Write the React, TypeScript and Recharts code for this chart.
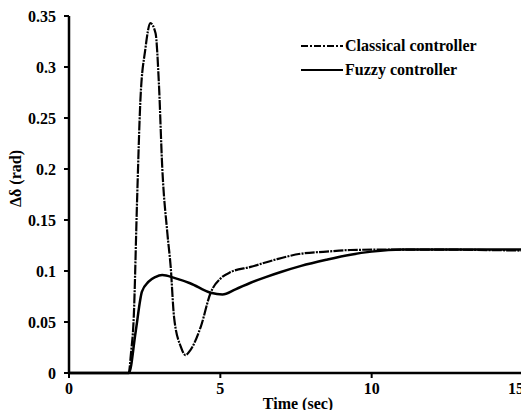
import React from "react";
import { LineChart, Line, XAxis, YAxis, Legend } from "recharts";

// time (sec) / Δδ (rad)
const classicalT = [0, 1.97, 2.05, 2.14, 2.25, 2.36, 2.52, 2.69, 2.86, 2.97, 3.08, 3.25, 3.36, 3.47, 3.69, 3.85, 4.0, 4.35, 4.68, 5.02, 5.35, 6.0, 6.8, 7.67, 8.5, 9.3, 10.5, 12, 15];
const classicalV = [0, 0, 0.02, 0.055, 0.17, 0.268, 0.317, 0.343, 0.333, 0.284, 0.202, 0.137, 0.104, 0.055, 0.026, 0.0176, 0.022, 0.045, 0.0787, 0.093, 0.099, 0.104, 0.111, 0.117, 0.119, 0.1206, 0.121, 0.121, 0.12];

const fuzzyT = [0, 1.98, 2.2, 2.41, 2.63, 2.85, 3.08, 3.5, 4.0, 4.68, 5.07, 5.5, 6.0, 6.5, 7.0, 7.67, 8.5, 9.3, 10, 11, 13, 15];
const fuzzyV = [0, 0, 0.04, 0.0797, 0.0895, 0.094, 0.096, 0.093, 0.088, 0.0787, 0.077, 0.082, 0.0885, 0.094, 0.099, 0.105, 0.111, 0.116, 0.119, 0.121, 0.121, 0.121];

const xTicks = [0, 5, 10, 15];
const yTicks = [0, 0.05, 0.1, 0.15, 0.2, 0.25, 0.3, 0.35];

const classical = classicalT.map((t, i) => ({ t, v: classicalV[i] }));
const fuzzy = fuzzyT.map((t, i) => ({ t, v: fuzzyV[i] }));

const FONT = "'Times New Roman', Times, 'Liberation Serif', serif";
const DASH = "10 1.2 2 1.2";
const tickStyle = { fontSize: 16, fontFamily: FONT, fontWeight: 700, fill: "#000" };
const labelStyle = { fontFamily: FONT, fontWeight: 700, fontSize: 16, fill: "#000" };

const renderLegend = ({ payload }: any) => (
  <div style={{ fontFamily: FONT, fontWeight: 700, fontSize: 16, color: "#000" }}>
    {(payload || []).map((p: any) => (
      <div key={p.value} style={{ display: "flex", alignItems: "center", height: 24 }}>
        <svg width={42} height={10} style={{ marginRight: 2 }}>
          <line x1={0} y1={5} x2={42} y2={5} stroke="#000" strokeWidth={2}
            strokeDasharray={p.value === "Classical controller" ? "7 2 2 2" : undefined} />
        </svg>
        <span>{p.value}</span>
      </div>
    ))}
  </div>
);

// last x label sits against the right edge, as in the original
const XTick = ({ x, y, payload }: any) => (
  <text x={x} y={y} dy="0.71em" dx={payload.value === 15 ? -5 : 0} textAnchor="middle" style={tickStyle}>
    {payload.value}
  </text>
);

const yLabel = ({ viewBox }: any) => {
  const x = viewBox.x + 21;
  const y = viewBox.y + viewBox.height / 2 - 16;
  return (
    <text x={x} y={y} transform={`rotate(-90, ${x}, ${y})`} textAnchor="middle" style={labelStyle}>
      Δδ (rad)
    </text>
  );
};

const xLabel = ({ viewBox }: any) => (
  <text x={viewBox.x + viewBox.width / 2 + 2} y={viewBox.y + 36} textAnchor="middle" style={labelStyle}>
    Time (sec)
  </text>
);

export default function App() {
  return (
    <div style={{ margin: -8, width: 529, height: 418, background: "#fff" }}>
      <LineChart width={529} height={418} margin={{ top: 16, right: 6, left: 0, bottom: 0 }}>
        <XAxis type="number" dataKey="t" domain={[0, 15]} ticks={xTicks} height={45}
          axisLine={{ stroke: "#000", strokeWidth: 2.5 }} tickLine={{ stroke: "#000", strokeWidth: 2 }}
          tickSize={5} tick={<XTick />} tickMargin={5} label={xLabel} />
        <YAxis type="number" dataKey="v" domain={[0, 0.35]} ticks={yTicks} width={69}
          axisLine={{ stroke: "#000", strokeWidth: 2.5 }} tickLine={{ stroke: "#000", strokeWidth: 2 }}
          tickSize={5} tick={tickStyle} tickMargin={8} label={yLabel} />
        <Legend layout="vertical" align="center" verticalAlign="middle" content={renderLegend}
          wrapperStyle={{ position: "absolute", top: 34, left: 301, width: 226 }} />
        <Line data={classical} dataKey="v" name="Classical controller" type="monotone"
          stroke="#000" strokeWidth={2.2} strokeDasharray={DASH} dot={false} isAnimationActive={false} />
        <Line data={fuzzy} dataKey="v" name="Fuzzy controller" type="monotone"
          stroke="#000" strokeWidth={2.5} dot={false} isAnimationActive={false} />
      </LineChart>
    </div>
  );
}
